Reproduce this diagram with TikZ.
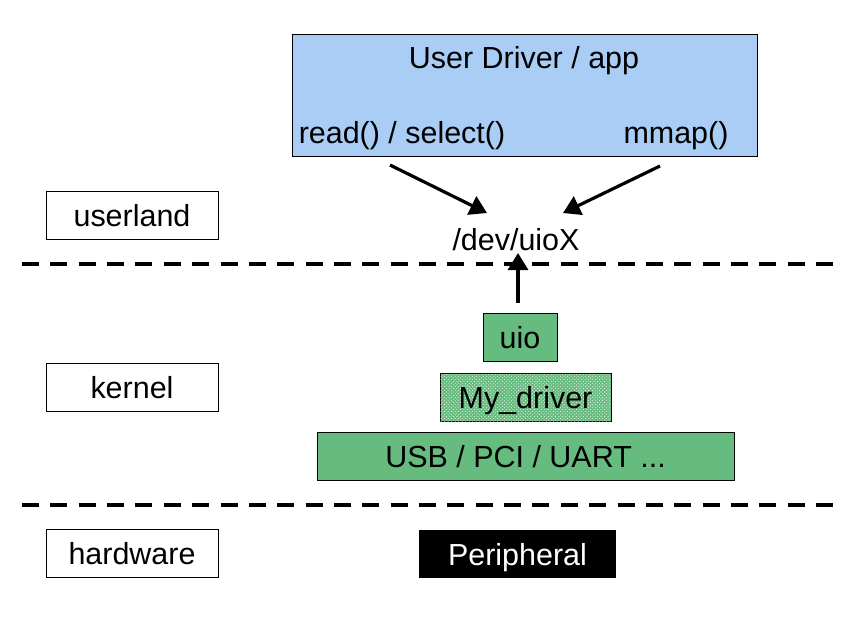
\documentclass[tikz,border=0pt]{standalone}
\usepackage{fontspec}
\setmainfont{Liberation Sans}
\usetikzlibrary{arrows.meta,patterns}

\definecolor{userblue}{HTML}{A9CDF5}
\definecolor{kgreen}{HTML}{66BB7F}
\def\px{0.03cm}

\tikzset{
  every node/.style={text depth=0pt},
  layerbox/.style={draw, fill=white, minimum width=172*\px, minimum height=48*\px, inner sep=0},
  kbox/.style={draw, fill=kgreen, minimum height=48*\px, inner sep=0},
  dotted green/.style={postaction={pattern=crosshatch dots, pattern color=white!90!kgreen}},
  bigarrow/.style={line width=3.2*\px, -{Triangle[length=17*\px, width=20*\px]}},
  sepline/.style={line width=3.5*\px, dash pattern=on 17*\px off 11.36*\px},
}

\begin{document}
\begin{tikzpicture}[x=\px, y=-\px, font=\fontsize{26}{30}\selectfont]

\useasboundingbox (0,0) rectangle (848,631);

% userland
\node [draw, fill=userblue, minimum width=465*\px, minimum height=122*\px, inner sep=0] (app) at (524.5,95) {};
\node (title) at (524,57) {User Driver / app};
\node (read) at (402,132) {read() / select()};
\node (mmap) at (676,132) {mmap()};
\node (dev) at (516,239) {/dev/uioX};
\coordinate (readend) at (390,165);
\coordinate (mmapend) at (660,166);
\coordinate (devin1) at (487,213);
\coordinate (devin2) at (563,213);
\coordinate (devin3) at (518,253);

% kernel
\node [kbox, minimum width=74*\px] (uio) at (520,337.5) {uio};
\node [kbox, dotted green, minimum width=171*\px] (mydrv) at (525.5,397) {My\_driver};
\node [kbox, minimum width=417*\px] (bus) at (525.5,456) {USB / PCI / UART ...};
\coordinate (uioout) at (518,303);

% hardware
\node [fill=black, text=white, minimum width=197*\px, minimum height=48*\px, inner sep=0] (periph) at (517.5,554) {Peripheral};

% layer labels
\node [layerbox] (userland) at (132,215) {userland};
\node [layerbox] (kernel) at (132,387) {kernel};
\node [layerbox] (hardware) at (132,553.5) {hardware};

% separators
\draw [sepline] (22,264) -- (833,264);
\draw [sepline] (22,505) -- (833,505);

\draw [bigarrow] (readend) -- (devin1);
\draw [bigarrow] (mmapend) -- (devin2);
\draw [bigarrow] (uioout) -- (devin3);

\end{tikzpicture}
\end{document}
